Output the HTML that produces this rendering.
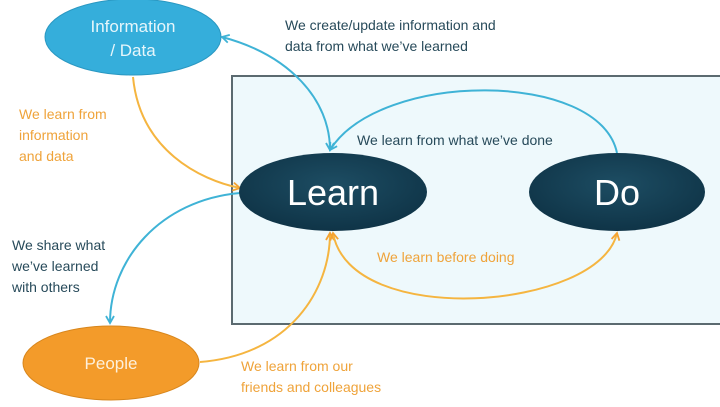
<!DOCTYPE html>
<html><head><meta charset="utf-8"><style>
body{margin:0;background:#fff;}
svg{display:block;font-family:"Liberation Sans",sans-serif;}
</style></head><body>
<svg width="720" height="407" viewBox="0 0 720 407">
<defs>
<radialGradient id="dk" cx="50%" cy="40%" r="60%"><stop offset="0" stop-color="#1d4d63"/><stop offset="1" stop-color="#0f3447"/></radialGradient>
<marker id="ab" markerWidth="10" markerHeight="10" refX="8" refY="5" orient="auto-start-reverse" markerUnits="userSpaceOnUse"><path d="M1,1 L8,5 L1,9" fill="none" stroke="#3fb3d6" stroke-width="1.8"/></marker>
<marker id="ao" markerWidth="10" markerHeight="10" refX="8" refY="5" orient="auto-start-reverse" markerUnits="userSpaceOnUse"><path d="M1,1 L8,5 L1,9" fill="none" stroke="#f5a332" stroke-width="1.8"/></marker>
</defs>
<rect x="232" y="76" width="490" height="248" fill="#eef9fc" stroke="#5b6a70" stroke-width="2"/>
<!-- connectors -->
<path d="M222,37 C290,55 330,100 330,150" fill="none" stroke="#3fb3d6" stroke-width="2" marker-start="url(#ab)" marker-end="url(#ab)"/>
<path d="M133,77 C140,150 200,180 240,188" fill="none" stroke="#f5b540" stroke-width="2" marker-end="url(#ao)"/>
<path d="M240,193 C160,200 110,260 110,323" fill="none" stroke="#3fb3d6" stroke-width="2" marker-end="url(#ab)"/>
<path d="M200,362 C290,355 330,290 330,233" fill="none" stroke="#f5b540" stroke-width="2" marker-end="url(#ao)"/>
<path d="M617,153 C600,70 380,70 330,150" fill="none" stroke="#3fb3d6" stroke-width="2" marker-end="url(#ab)"/>
<path d="M333,233 C350,330 600,310 617,233" fill="none" stroke="#f5b540" stroke-width="2" marker-start="url(#ao)" marker-end="url(#ao)"/>
<!-- nodes -->
<ellipse cx="133" cy="37" rx="88" ry="38" fill="#35aedb" stroke="#2a98c2" stroke-width="1"/>
<text x="133" y="32" text-anchor="middle" font-size="17" fill="#e6f6fb">Information</text>
<text x="133" y="56" text-anchor="middle" font-size="17" fill="#e6f6fb">/ Data</text>
<ellipse cx="111" cy="363" rx="88" ry="37" fill="#f39b2a" stroke="#d8861c" stroke-width="1"/>
<text x="111" y="369" text-anchor="middle" font-size="17" fill="#fdf0dc">People</text>
<ellipse cx="333" cy="192" rx="94" ry="39" fill="url(#dk)"/>
<text x="333" y="205" text-anchor="middle" font-size="36" fill="#fff">Learn</text>
<ellipse cx="617" cy="192" rx="88" ry="39" fill="url(#dk)"/>
<text x="617" y="205" text-anchor="middle" font-size="36" fill="#fff">Do</text>
<!-- labels -->
<g font-size="14" fill="#274a5a">
<text x="285" y="30">We create/update information and</text>
<text x="285" y="51">data from what we’ve learned</text>
<text x="357" y="145">We learn from what we’ve done</text>
<text x="12" y="250">We share what</text>
<text x="12" y="271">we’ve learned</text>
<text x="12" y="292">with others</text>
</g>
<g font-size="14" fill="#efa33a">
<text x="19" y="119">We learn from</text>
<text x="19" y="140">information</text>
<text x="19" y="161">and data</text>
<text x="377" y="262">We learn before doing</text>
<text x="241" y="371">We learn from our</text>
<text x="241" y="392">friends and colleagues</text>
</g>
</svg>
</body></html>
